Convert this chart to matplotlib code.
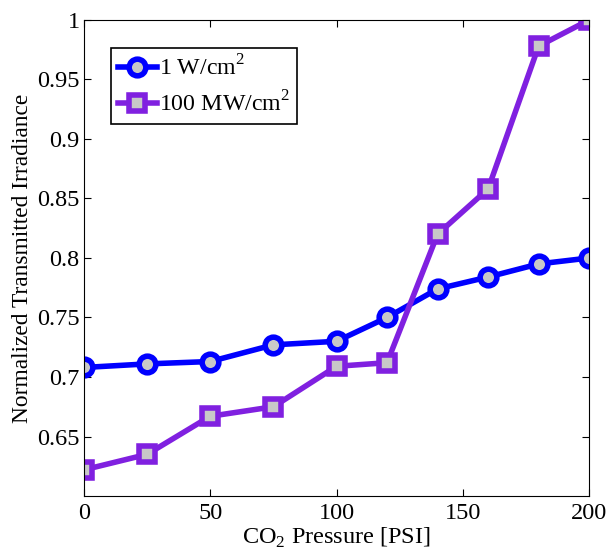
import matplotlib.pyplot as plt

pressure = [0, 25, 50, 75, 100, 120, 140, 160, 180, 200]
low_power = [0.708, 0.711, 0.713, 0.727, 0.730, 0.750, 0.774, 0.784, 0.795, 0.800]
high_power = [0.622, 0.635, 0.667, 0.675, 0.709, 0.712, 0.820, 0.858, 0.978, 1.000]

plt.rcParams['font.family'] = ['Liberation Serif', 'DejaVu Serif']
plt.rcParams['mathtext.fontset'] = 'custom'
plt.rcParams['mathtext.rm'] = 'Liberation Serif'

fig = plt.figure(figsize=(6.08, 5.51), dpi=100)
ax = fig.add_axes([0.138, 0.0998, 0.831, 0.864])

ax.plot(pressure, low_power, color='#0000FF', lw=4, marker='o', ms=12,
        mfc='#C8C8C8', mec='#0000FF', mew=4, label=r'1 W/cm$^2$')
ax.plot(pressure, high_power, color='#8020E0', lw=4, marker='s', ms=11,
        mfc='#C8C8C8', mec='#8020E0', mew=4, label=r'100 MW/cm$^2$')

ax.set_xlim(0, 200)
ax.set_ylim(0.6, 1)
ax.set_xticks([0, 50, 100, 150, 200])
ax.set_yticks([0.65, 0.7, 0.75, 0.8, 0.85, 0.9, 0.95, 1])
ax.set_yticklabels(['0.65', '0.7', '0.75', '0.8', '0.85', '0.9', '0.95', '1'])
ax.tick_params(direction='in', top=True, right=True, labelsize=17.5, length=5)
ax.tick_params(axis='y', pad=3)
ax.tick_params(axis='x', pad=5)

ax.set_xlabel(r'CO$_2$ Pressure [PSI]', fontsize=17.5, labelpad=1)
ax.set_ylabel('Normalized Transmitted Irradiance', fontsize=16.8, labelpad=3)

leg = ax.legend(loc='upper left', bbox_to_anchor=(0.054, 0.941), borderaxespad=0,
                fontsize=17.2, fancybox=False, edgecolor='black', framealpha=1,
                handlelength=1.6, handletextpad=0.1, borderpad=0.3, labelspacing=0.45)
leg.get_frame().set_linewidth(1.2)

fig.savefig('out.png', dpi=100)
